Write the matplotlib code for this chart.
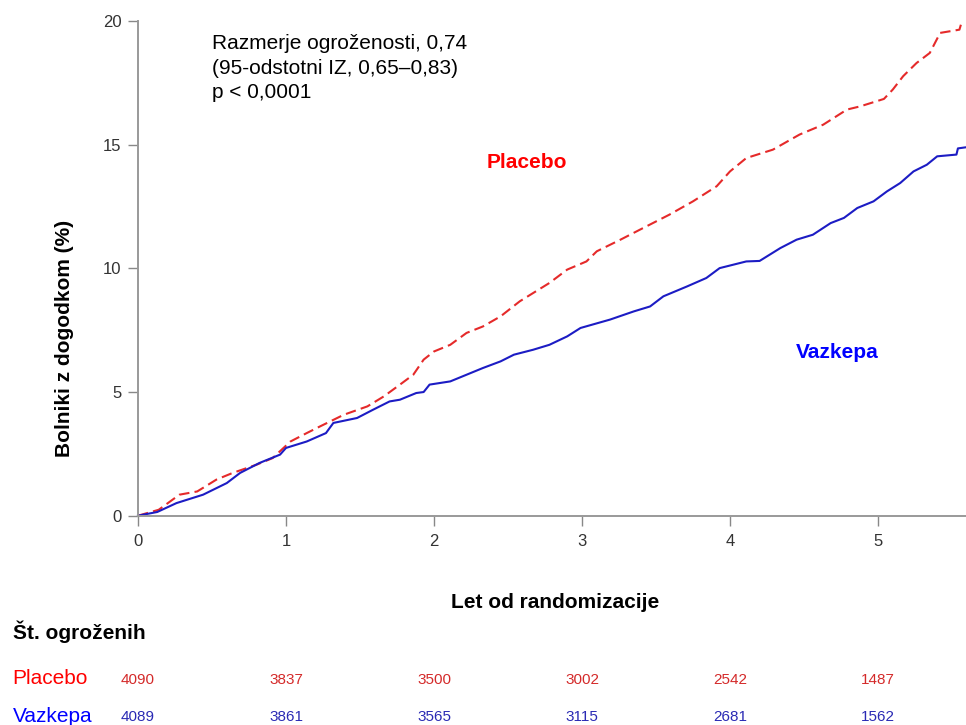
import matplotlib.pyplot as plt

# Kaplan-Meier style curves (years, % patients with event)
placebo_t = [0, 0.14, 0.28, 0.40, 0.53, 0.64, 0.80, 0.91, 1.03, 1.14, 1.23, 1.39, 1.55,
             1.66, 1.77, 1.86, 1.93, 2.00, 2.11, 2.22, 2.33, 2.45, 2.58, 2.78, 2.90,
             3.03, 3.10, 3.26, 3.39, 3.59, 3.75, 3.91, 4.00, 4.11, 4.29, 4.47, 4.63,
             4.79, 4.88, 5.04, 5.10, 5.17, 5.26, 5.35, 5.42, 5.55, 5.56]
placebo_v = [0, 0.24, 0.85, 0.98, 1.46, 1.73, 2.06, 2.33, 3.00, 3.34, 3.61, 4.08, 4.42,
             4.82, 5.30, 5.70, 6.31, 6.64, 6.91, 7.39, 7.65, 8.06, 8.67, 9.41, 9.95,
             10.28, 10.69, 11.16, 11.56, 12.17, 12.71, 13.32, 13.92, 14.46, 14.80, 15.41, 15.81,
             16.42, 16.55, 16.85, 17.23, 17.77, 18.30, 18.71, 19.52, 19.65, 19.85]

vazkepa_t = [0, 0.13, 0.26, 0.44, 0.60, 0.69, 0.82, 0.96, 1.00, 1.14, 1.27, 1.32, 1.48,
             1.59, 1.70, 1.77, 1.88, 1.93, 1.97, 2.11, 2.22, 2.33, 2.45, 2.54, 2.67,
             2.78, 2.90, 2.99, 3.19, 3.35, 3.46, 3.55, 3.71, 3.84, 3.93, 4.11, 4.20,
             4.34, 4.45, 4.56, 4.68, 4.77, 4.86, 4.97, 5.06, 5.15, 5.24, 5.33, 5.40,
             5.53, 5.54, 5.60]
vazkepa_v = [0, 0.15, 0.51, 0.85, 1.32, 1.73, 2.13, 2.47, 2.74, 3.00, 3.34, 3.75, 3.95,
             4.29, 4.62, 4.69, 4.96, 5.00, 5.30, 5.43, 5.70, 5.97, 6.24, 6.51, 6.71,
             6.91, 7.25, 7.59, 7.93, 8.26, 8.46, 8.87, 9.27, 9.61, 10.01, 10.28, 10.30,
             10.82, 11.16, 11.36, 11.83, 12.04, 12.44, 12.71, 13.11, 13.45, 13.92, 14.19, 14.53,
             14.60, 14.85, 14.90]

risk_years = [0, 1, 2, 3, 4, 5]
risk_placebo = [4090, 3837, 3500, 3002, 2542, 1487]
risk_vazkepa = [4089, 3861, 3565, 3115, 2681, 1562]
y_ticks = [0, 5, 10, 15, 20]

plt.rcParams['font.family'] = ['Liberation Sans', 'DejaVu Sans']

W, H = 966, 725
fig = plt.figure(figsize=(W / 100, H / 100), dpi=100)


def fx(x):
    return x / W


def fy(y):
    return 1 - y / H


ax = fig.add_axes([fx(138), fy(515.7), fx(W - 138), 515.7 / H])
ax.set_xlim(0, (W - 138) / 148)
ax.set_ylim(0, 20.85)

ax.plot(placebo_t, placebo_v, color='#e52a2a', lw=1.5, dashes=(5, 2.5), clip_on=False)
ax.plot(vazkepa_t, vazkepa_v, color='#1c1cc4', lw=1.5, clip_on=False)

for s in ['top', 'right']:
    ax.spines[s].set_visible(False)
for s in ['left', 'bottom']:
    ax.spines[s].set_color('#999999')
    ax.spines[s].set_linewidth(1.4)
ax.spines['left'].set_bounds(0, 20)
ax.spines['bottom'].set_bounds(0, ax.get_xlim()[1])

ax.set_xticks(risk_years)
ax.set_yticks(y_ticks)
ax.tick_params(axis='both', length=7, width=1, color='#888888', labelcolor='#333333', labelsize=12)
ax.tick_params(axis='x', pad=6)
ax.tick_params(axis='y', pad=5)

# annotation
fig.text(fx(212), fy(49), 'Razmerje ogroženosti, 0,74', fontsize=15, va='baseline')
fig.text(fx(212), fy(73.5), '(95-odstotni IZ, 0,65–0,83)', fontsize=15, va='baseline')
fig.text(fx(212), fy(98), 'p < 0,0001', fontsize=15, va='baseline')

fig.text(fx(527), fy(167.7), 'Placebo', color='#ff0000', fontsize=15, fontweight='bold',
         ha='center', va='baseline')
fig.text(fx(837), fy(358), 'Vazkepa', color='#0000ff', fontsize=15, fontweight='bold',
         ha='center', va='baseline')

fig.text(fx(65), fy(338), 'Bolniki z dogodkom (%)', fontsize=15, fontweight='bold',
         rotation=90, ha='center', va='center')
fig.text(fx(555), fy(608.3), 'Let od randomizacije', fontsize=15, fontweight='bold',
         ha='center', va='baseline')

# number at risk table
fig.text(fx(12.7), fy(639.3), 'Št. ogroženih', fontsize=15, fontweight='bold', va='baseline')
fig.text(fx(12.7), fy(684), 'Placebo', fontsize=15, color='#ff0000', va='baseline')
fig.text(fx(12.7), fy(721.5), 'Vazkepa', fontsize=15, color='#0000ff', va='baseline')
for t, n1, n2 in zip(risk_years, risk_placebo, risk_vazkepa):
    xp = fx(138 + 148 * t)
    fig.text(xp, fy(684), str(n1), fontsize=11, color='#d42a2a', ha='center', va='baseline')
    fig.text(xp, fy(721), str(n2), fontsize=11, color='#2a2ab4', ha='center', va='baseline')

plt.savefig('out.png', dpi=100)
